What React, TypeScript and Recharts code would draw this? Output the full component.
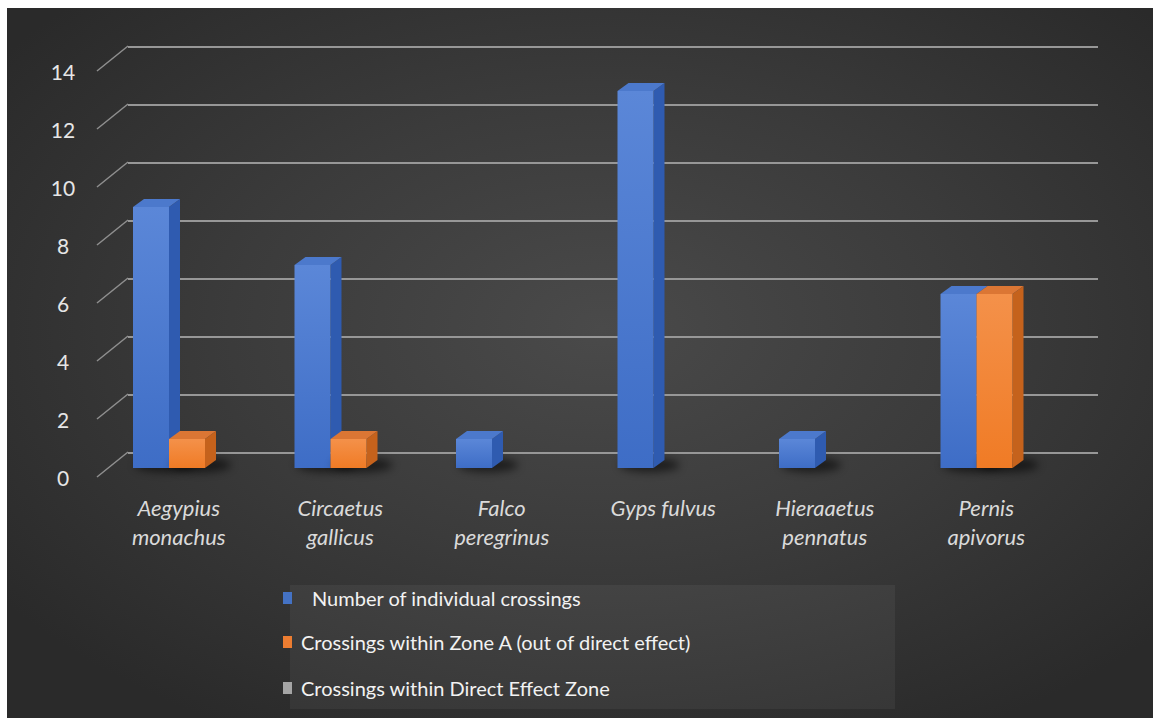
import { BarChart, Bar, XAxis, YAxis, CartesianGrid } from "recharts";

const species = [
  "Aegypius monachus",
  "Circaetus gallicus",
  "Falco peregrinus",
  "Gyps fulvus",
  "Hieraaetus pennatus",
  "Pernis apivorus",
];
const speciesLines = [
  ["Aegypius", "monachus"],
  ["Circaetus", "gallicus"],
  ["Falco", "peregrinus"],
  ["Gyps fulvus"],
  ["Hieraaetus", "pennatus"],
  ["Pernis", "apivorus"],
];
const individualCrossings = [9, 7, 1, 13, 1, 6];
const zoneACrossings = [1, 1, 0, 0, 0, 6];
const directZoneCrossings = [0, 0, 0, 0, 0, 0];
const yTicks = [0, 2, 4, 6, 8, 10, 12, 14];

const seriesNames = [
  "Number of individual crossings",
  "Crossings within Zone A (out of direct effect)",
  "Crossings within Direct Effect Zone",
];
const seriesColors = ["#4472c4", "#ed7d31", "#a5a5a5"];

const data = species.map((name, i) => ({
  name,
  individual: individualCrossings[i],
  zoneA: zoneACrossings[i],
  direct: directZoneCrossings[i],
}));

const FONT = "Lato, 'Open Sans', sans-serif";

// fake 3d box: front + side + top
const makeBox = (front: string, side: string, top: string) => (props: any) => {
  const { x, y, width, height } = props;
  if (!height || height <= 0) return <g />;
  const dx = 11;
  const dy = 8;
  return (
    <g>
      <ellipse
        cx={x + width / 2 + 14}
        cy={y + height - 3}
        rx={width / 2 + 12}
        ry={7}
        fill="#000"
        opacity={0.55}
        filter="url(#shadowBlur)"
      />
      <polygon
        points={`${x + width},${y} ${x + width + dx},${y - dy} ${x + width + dx},${y + height - dy} ${x + width},${y + height}`}
        fill={side}
      />
      <polygon
        points={`${x},${y} ${x + dx},${y - dy} ${x + width + dx},${y - dy} ${x + width},${y}`}
        fill={top}
      />
      <rect x={x} y={y} width={width} height={height} fill={front} />
    </g>
  );
};

const gridLine = (p: any) => {
  const { x1, x2, y1, index } = p;
  return (
    <g key={`grid-${index}`}>
      <line x1={x1 - 9} y1={y1 + 9} x2={x1 + 22} y2={y1 - 16} stroke="#8f8f8f" strokeWidth={1.5} />
      <line x1={x1 + 22} y1={y1 - 15} x2={x2 + 23} y2={y1 - 15} stroke="#979797" strokeWidth={2} />
    </g>
  );
};

const YTick = ({ y, payload }: any) => (
  <text x={63} y={y + 9} textAnchor="middle" dominantBaseline="central" fill="#e6e6e6" fontSize={21} fontFamily={FONT}>
    {payload.value}
  </text>
);

const XTick = ({ x, index }: any) => {
  const lines = speciesLines[index] ?? [];
  return (
    <g>
      {lines.map((l: string, i: number) => (
        <text
          key={i}
          x={x - 8}
          y={507 + i * 29}
          textAnchor="middle"
          dominantBaseline="central"
          fill="#dadada"
          fontSize={22}
          fontStyle="italic"
          fontFamily={FONT}
        >
          {l}
        </text>
      ))}
    </g>
  );
};

const legendRows = [598, 642, 688];

export default function App() {
  return (
    <div style={{ position: "fixed", left: 0, top: 0, width: 1153, height: 718, background: "#fff", fontFamily: FONT }}>
      <div
        style={{
          position: "absolute",
          left: 7,
          top: 8,
          right: 0,
          bottom: 0,
          background: "radial-gradient(ellipse 65% 65% at 52% 45%, #4a4a4a 0%, #3b3b3b 50%, #2a2a2a 100%)",
        }}
      />
      <div
        style={{
          position: "absolute",
          left: 290,
          top: 585,
          width: 605,
          height: 124,
          background: "rgba(255,255,255,0.05)",
        }}
      />
      <div style={{ position: "absolute", left: 0, top: 0 }}>
        <BarChart
          width={1153}
          height={718}
          data={data}
          margin={{ top: 62, right: 78, bottom: 190, left: 46 }}
          barGap={0}
          barSize={36}
        >
          <defs>
            <linearGradient id="blueFront" x1="0" y1="0" x2="0" y2="1">
              <stop offset="0%" stopColor="#5b87d8" />
              <stop offset="100%" stopColor="#3e6dc6" />
            </linearGradient>
            <linearGradient id="orangeFront" x1="0" y1="0" x2="0" y2="1">
              <stop offset="0%" stopColor="#f4914a" />
              <stop offset="100%" stopColor="#f07b25" />
            </linearGradient>
            <filter id="shadowBlur" x="-50%" y="-200%" width="200%" height="500%">
              <feGaussianBlur stdDeviation="4" />
            </filter>
          </defs>
          <CartesianGrid vertical={false} horizontal={gridLine} />
          <XAxis dataKey="name" axisLine={false} tickLine={false} height={60} tick={<XTick />} interval={0} />
          <YAxis domain={[0, 14]} ticks={yTicks} axisLine={false} tickLine={false} width={60} tick={<YTick />} />
          <Bar dataKey="individual" isAnimationActive={false} shape={makeBox("url(#blueFront)", "#2f5bb0", "#4c79cc")} />
          <Bar dataKey="zoneA" isAnimationActive={false} shape={makeBox("url(#orangeFront)", "#c5621c", "#db7634")} />
          <Bar dataKey="direct" isAnimationActive={false} shape={makeBox("#a5a5a5", "#7f7f7f", "#bdbdbd")} />
        </BarChart>
      </div>
      {seriesNames.map((name, i) => (
        <div key={name}>
          <div
            style={{
              position: "absolute",
              left: 283,
              top: legendRows[i] - 6,
              width: 9,
              height: 12,
              background: seriesColors[i],
            }}
          />
          <div
            style={{
              position: "absolute",
              left: i === 0 ? 312 : 301,
              top: legendRows[i] - 12,
              height: 24,
              lineHeight: "24px",
              fontSize: 20,
              color: "#f2f2f2",
              whiteSpace: "nowrap",
            }}
          >
            {name}
          </div>
        </div>
      ))}
    </div>
  );
}
